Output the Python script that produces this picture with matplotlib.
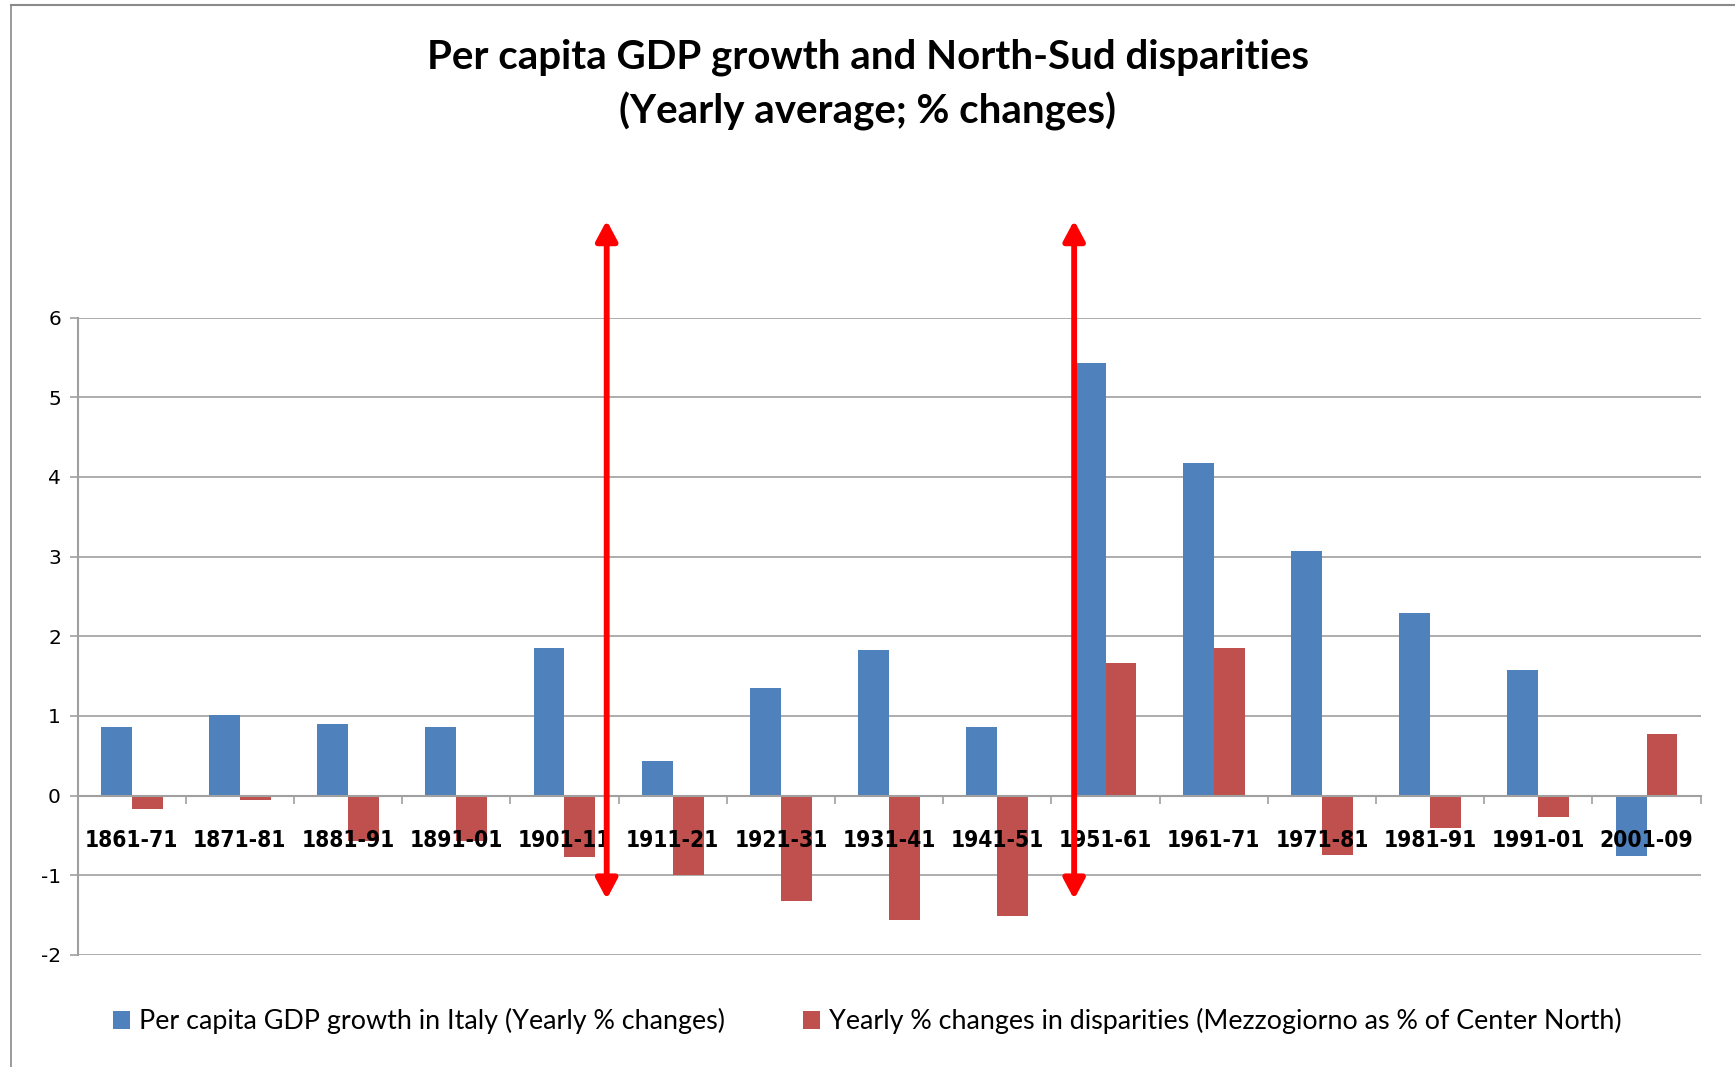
import matplotlib
matplotlib.use("Agg")
import matplotlib.pyplot as plt
from matplotlib.patches import Patch
from matplotlib.lines import Line2D
import numpy as np

categories = ["1861-71", "1871-81", "1881-91", "1891-01", "1901-11", "1911-21", "1921-31",
              "1931-41", "1941-51", "1951-61", "1961-71", "1971-81", "1981-91", "1991-01", "2001-09"]
gdp_growth = [0.86, 1.01, 0.90, 0.86, 1.85, 0.43, 1.35, 1.83, 0.86, 5.43, 4.17, 3.07, 2.29, 1.58, -0.76]
disparities = [-0.17, -0.05, -0.57, -0.57, -0.77, -1.00, -1.32, -1.56, -1.51, 1.67, 1.85, -0.75, -0.41, -0.27, 0.77]
yticks = [-2, -1, 0, 1, 2, 3, 4, 5, 6]
arrow_x = [4.39, 8.71]
arrow_y = [-1.30, 7.22]

title1 = "Per capita GDP growth and North-Sud disparities"
title2 = "(Yearly average; % changes)"
legend_labels = ["Per capita GDP growth in Italy (Yearly % changes)",
                 "Yearly % changes in disparities (Mezzogiorno as % of Center North)"]

BLUE = "#4F81BD"
RED = "#C0504D"
GRID = "#A0A0A0"

fig = plt.figure(figsize=(17.35, 10.67), dpi=100)
ax = fig.add_axes([0.0447, 0.105, 0.9355, 0.5973])

x = np.arange(len(categories))
w = 0.2857
for yv in yticks:
    ax.axhline(yv, color=GRID, lw=1.2, zorder=1)
ax.bar(x - w / 2, gdp_growth, width=w, color=BLUE, zorder=2)
ax.bar(x + w / 2, disparities, width=w, color=RED, zorder=2)
ax.set_axisbelow(False)

ax.set_xlim(-0.5, len(categories) - 0.5)
ax.set_ylim(-2, 6)
ax.set_yticks(yticks)
ax.set_yticklabels([str(v) for v in yticks], fontsize=14.5, family="DejaVu Sans")

for s in ["top", "right"]:
    ax.spines[s].set_visible(False)
ax.spines["left"].set_color(GRID)
ax.spines["left"].set_linewidth(1.5)
ax.spines["bottom"].set_position(("data", 0))
ax.spines["bottom"].set_color(GRID)
ax.spines["bottom"].set_linewidth(1.5)

ax.set_xticks(x)
ax.set_xticklabels(categories, fontsize=16.3, fontweight="bold", family="DejaVu Sans",
                   fontstretch="condensed")
ax.set_xticks(np.arange(-0.5, len(categories)), minor=True)
ax.tick_params(axis="x", which="major", length=0, pad=24)
ax.tick_params(axis="x", which="minor", length=6, color=GRID, width=1.2, direction="out")
ax.tick_params(axis="y", length=6, color=GRID, width=1.2, pad=6)

for xa in arrow_x:
    ax.annotate("", xy=(xa, arrow_y[1]), xytext=(xa, arrow_y[0]),
                arrowprops=dict(arrowstyle="<|-|>,head_width=0.32,head_length=0.6",
                                color="#FF0000", lw=4.2, mutation_scale=20,
                                shrinkA=0, shrinkB=0),
                annotation_clip=False, zorder=5)

fig.text(0.5, 0.946, title1, ha="center", va="center", fontsize=29, fontweight="bold", family="Lato")
fig.text(0.5, 0.896, title2, ha="center", va="center", fontsize=29, fontweight="bold", family="Lato")

handles = [Patch(facecolor=BLUE, edgecolor="none"), Patch(facecolor=RED, edgecolor="none")]
fig.legend(handles, legend_labels, loc="center", bbox_to_anchor=(0.5, 0.043), ncol=2,
           frameon=False, prop={"family": "Lato", "size": 19.4}, handlelength=0.62, handleheight=0.65,
           handletextpad=0.35, columnspacing=2.9)

# outer chart border (top and left edges visible)
fig.add_artist(Line2D([11 / 1735, 1.0], [1 - 5 / 1067, 1 - 5 / 1067], transform=fig.transFigure,
                      color="#8A8A8A", lw=1.5))
fig.add_artist(Line2D([11 / 1735, 11 / 1735], [0.0, 1 - 5 / 1067], transform=fig.transFigure,
                      color="#8A8A8A", lw=1.2))

fig.savefig("out.png", dpi=100)
